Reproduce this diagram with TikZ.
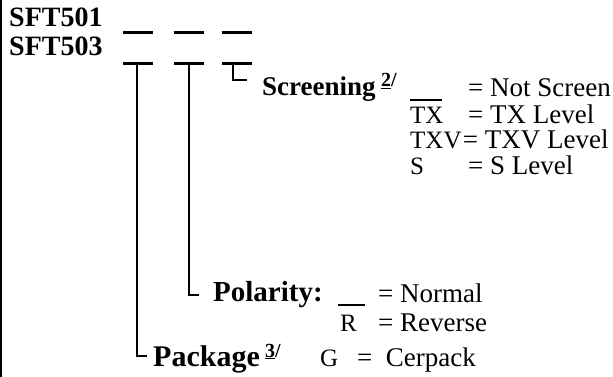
\documentclass[tikz,border=0pt]{standalone}
\usepackage{fontspec}
\setmainfont{Liberation Serif}
\usetikzlibrary{positioning}

\begin{document}
\begin{tikzpicture}[x=1pt, y=-1pt,
    bar/.style={line width=3pt},
    lead/.style={line width=1.4pt},
    tag/.style={anchor=base west, inner sep=0pt, font=\fontsize{25}{28}\selectfont},
    txt/.style={anchor=base west, inner sep=0pt, font=\fontsize{27}{30}\selectfont},
    bold/.style={anchor=base west, inner sep=0pt, font=\fontsize{#1}{30}\selectfont\bfseries},
    fnote/.style={anchor=base west, inner sep=0pt, font=\fontsize{20}{22}\selectfont\bfseries}]
    \useasboundingbox (0,0) rectangle (613,377);

    % Left frame line
    \draw[line width=2pt] (1,0) -- (1,377);

    % Part numbers
    \node[bold=28] (pn1) at (9,27) {SFT501};
    \node[bold=28] (pn2) at (9,56) {SFT503};

    % Blank fields, two rows
    \foreach \xa/\xb [count=\i] in {123/153, 174/204, 222/252} {
        \draw[bar] (\xa,33) -- (\xb,33);
        \draw[bar] (\xa,64) -- (\xb,64);
    }

    % Leads down from the second row
    \coordinate (scrtop) at (233,64);
    \coordinate (scrend) at (247,80);
    \coordinate (poltop) at (189,64);
    \coordinate (polend) at (199,295);
    \coordinate (pkgtop) at (137,64);
    \coordinate (pkgend) at (147,356);
    \draw[lead] (scrtop) |- (scrend);
    \draw[lead] (poltop) |- (polend);
    \draw[lead] (pkgtop) |- (pkgend);

    % Screening
    \node[bold=27] (scr) at (262,96) {Screening};
    \node[fnote] (scrnote) at ([xshift=5pt,yshift=9pt]scr.base east) {\underline{2}/};
    \coordinate (scrblankw) at (410,100);
    \coordinate (scrblanke) at (442,100);
    \draw[lead] (scrblankw) -- (scrblanke);
    \node[txt] (scrns) at (468,97) {= Not Screen};
    \node[tag] (scrtx) at (410,124) {TX};
    \node[txt] (scrtxl) at (468,124) {= TX Level};
    \node[tag] (scrtxv) at (410,149) {TXV};
    \node[txt] (scrtxvl) at ([xshift=1pt]scrtxv.base east) {= TXV Level};
    \node[tag] (scrs) at (410,174) {S};
    \node[txt] (scrsl) at (468,174) {= S Level};

    % Polarity
    \node[bold=29] (pol) at (213,301) {Polarity:};
    \coordinate (polblankw) at (338,305);
    \coordinate (polblanke) at (365,305);
    \draw[lead] (polblankw) -- (polblanke);
    \node[txt] (polnor) at (378,302) {= Normal};
    \node[tag] (polr) at (340,331) {R};
    \node[txt] (polrev) at (378,331) {= Reverse};

    % Package
    \node[bold=30] (pkg) at (153,366) {Package};
    \node[fnote] (pkgnote) at ([xshift=5pt,yshift=9pt]pkg.base east) {\underline{3}/};
    \node[tag] (pkgg) at (320,366) {G};
    \node[txt] (pkgcer) at (357,366) {=\ \ Cerpack};

\end{tikzpicture}
\end{document}
